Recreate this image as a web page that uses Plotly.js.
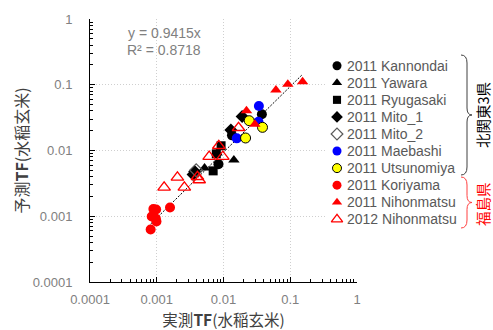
<!DOCTYPE html>
<html>
<head>
<meta charset="utf-8">
<script src="https://cdn.plot.ly/plotly-3.0.1.min.js"></script>
<style>html,body{margin:0;padding:0;background:#fff;}#chart{width:493px;height:330px;}</style>
</head>
<body>
<div id="chart"></div>
<script>
// ---- data ----
const seriesNames = ["2011 Kannondai","2011 Yawara","2011 Ryugasaki","2011 Mito_1","2011 Mito_2","2011 Maebashi","2011 Utsunomiya","2011 Koriyama","2011 Nihonmatsu","2012 Nihonmatsu"];
const kannondaiX = [0.0376, 0.0084, 0.0134];
const kannondaiY = [0.0355, 0.0062, 0.0170];
const yawaraX = [0.0143, 0.0052, 0.0080];
const yawaraY = [0.0072, 0.0054, 0.0092];
const ryugasakiX = [0.0070, 0.0078, 0.0092];
const ryugasakiY = [0.0049, 0.0089, 0.0118];
const mito1X = [0.0129, 0.0190, 0.0035, 0.0037];
const mito1Y = [0.0205, 0.0330, 0.0043, 0.0048];
const mito2X = [0.0039];
const mito2Y = [0.0050];
const maebashiX = [0.0339, 0.0334, 0.0158];
const maebashiY = [0.0475, 0.0274, 0.0153];
const utsunomiyaX = [0.0243, 0.0384, 0.0214];
const utsunomiyaY = [0.0284, 0.0225, 0.0155];
const koriyamaX = [0.00089, 0.00098, 0.00084, 0.00097, 0.00099, 0.00081, 0.00158];
const koriyamaY = [0.00129, 0.00127, 0.00099, 0.00092, 0.00083, 0.00063, 0.00136];
const nihon2011X = [0.061, 0.092, 0.153, 0.0221, 0.0295];
const nihon2011Y = [0.083, 0.102, 0.111, 0.0403, 0.025];
const nihon2012X = [0.00129, 0.00204, 0.00259, 0.00407, 0.00432, 0.0061, 0.0085, 0.00977, 0.0168];
const nihon2012Y = [0.00275, 0.00391, 0.00275, 0.00399, 0.00356, 0.00805, 0.0118, 0.00805, 0.0222];
const trendSlope = 0.9415;
const rSquared = 0.8718;
const tickVals = [0.0001, 0.001, 0.01, 0.1, 1];
const tickLabels = ["0.0001", "0.001", "0.01", "0.1", "1"];
const xTitle = "実測<b>TF</b>(水稲玄米)";
const yTitle = "予測<b>TF</b>(水稲玄米)";
const groupLabels = ["北関東3県", "福島県"];

// ---- layout geometry (pixels) ----
const W = 493, H = 330, ML = 90, MR = 3, MT = 19, MB = 48;
const PLOT_W = 267;                 // width of the main plot area
const PAPER_W = W - ML - MR, PH = H - MT - MB;
const X = px => (px - ML) / PAPER_W;
const Y = py => (H - MB - py) / PH;
// legend box (pixels)
const LG = {left: 327, right: 460, top: 50, bottom: 240, firstRow: 65.7, rowGap: 17.07, markerX: 10, textX: 18};

const styles = [
  {symbol: "circle", color: "#000000", size: 10},
  {symbol: "triangle-up", color: "#000000", size: 10},
  {symbol: "square", color: "#000000", size: 9},
  {symbol: "diamond", color: "#000000", size: 10},
  {symbol: "diamond-open", color: "#595959", size: 10},
  {symbol: "circle", color: "#0000ff", size: 10},
  {symbol: "circle", color: "#ffff00", size: 10, line: {color: "#000000", width: 1}},
  {symbol: "circle", color: "#ff0000", size: 10},
  {symbol: "triangle-up", color: "#ff0000", size: 10},
  {symbol: "triangle-up-open", color: "#ff0000", size: 11, line: {color: "#ff0000", width: 1.3}}
];
const xs = [kannondaiX, yawaraX, ryugasakiX, mito1X, mito2X, maebashiX, utsunomiyaX, koriyamaX, nihon2011X, nihon2012X];
const ys = [kannondaiY, yawaraY, ryugasakiY, mito1Y, mito2Y, maebashiY, utsunomiyaY, koriyamaY, nihon2011Y, nihon2012Y];

const markerOf = (s, scale) => ({
  symbol: s.symbol, color: s.color, size: s.size * scale,
  line: s.line || {color: s.color, width: s.symbol.indexOf("open") >= 0 ? 1.2 : 0}
});

const allX = [].concat(...xs);
const xmin = Math.min(...allX), xmax = Math.max(...allX);
const traces = [{
  x: [xmin, xmax], y: [xmin * trendSlope, xmax * trendSlope],
  mode: "lines", line: {color: "#000000", width: 1, dash: "2px,1.5px"},
  showlegend: false, hoverinfo: "skip", xaxis: "x", yaxis: "y"
}];
seriesNames.forEach((name, i) => {
  traces.push({
    x: xs[i], y: ys[i], name: name, mode: "markers", type: "scatter",
    marker: markerOf(styles[i], 1), showlegend: false, xaxis: "x", yaxis: "y"
  });
});
// legend swatches: one row per series, placed by its index
const legendAnnotations = [];
seriesNames.forEach((name, i) => {
  traces.push({
    x: [LG.markerX], y: [i], mode: "markers", type: "scatter", name: name,
    marker: markerOf(styles[i], 0.9), showlegend: false, hoverinfo: "skip", xaxis: "x2", yaxis: "y2"
  });
  legendAnnotations.push({
    xref: "x2", yref: "y2", x: LG.textX, y: i, text: name, showarrow: false,
    xanchor: "left", yanchor: "middle",
    font: {family: "Liberation Sans, Arial, sans-serif", size: 14, color: "#595959"}
  });
});

function brace(y0, y1, xl, xs_, xt) {
  const ym = (y0 + y1) / 2;
  const p = (a, b) => X(a).toFixed(4) + "," + Y(b).toFixed(4);
  return `M ${p(xl, y0)} Q ${p(xs_, y0)} ${p(xs_, y0 + 8)} L ${p(xs_, ym - 7)} Q ${p(xs_, ym)} ${p(xt, ym)} Q ${p(xs_, ym)} ${p(xs_, ym + 7)} L ${p(xs_, y1 - 8)} Q ${p(xs_, y1)} ${p(xl, y1)}`;
}

const axisCommon = {
  type: "log", range: [-4, 0], tickmode: "array", tickvals: tickVals, ticktext: tickLabels,
  showline: true, linecolor: "#000000", linewidth: 1, mirror: false,
  ticks: "inside", ticklen: 5, tickcolor: "#000000",
  showgrid: true, gridcolor: "#cfcfcf", griddash: "1px,2px", gridwidth: 1,
  zeroline: false,
  minor: {ticks: "inside", ticklen: 3, tickcolor: "#000000", dtick: "D1", showgrid: false},
  tickfont: {family: "Liberation Sans, Arial, sans-serif", size: 13, color: "#808080"},
  automargin: false
};

const rowsTop = (LG.top - LG.firstRow) / LG.rowGap;
const rowsBottom = (LG.bottom - LG.firstRow) / LG.rowGap;

const layout = {
  width: W, height: H,
  margin: {l: ML, r: MR, t: MT, b: MB, pad: 0},
  paper_bgcolor: "#ffffff", plot_bgcolor: "#ffffff",
  font: {family: "Liberation Sans, Arial, sans-serif"},
  xaxis: Object.assign({}, axisCommon, {
    domain: [0, PLOT_W / PAPER_W],
    ticklabelstandoff: 5,
    title: {text: xTitle, standoff: 10, font: {family: "Noto Sans CJK JP, sans-serif", size: 15.5, color: "#404040"}}
  }),
  yaxis: Object.assign({}, axisCommon, {
    ticklabelstandoff: 14,
    title: {text: yTitle, standoff: 0, font: {family: "Noto Sans CJK JP, sans-serif", size: 16, color: "#404040"}}
  }),
  xaxis2: {domain: [X(LG.left), X(LG.right)], range: [0, LG.right - LG.left], visible: false, anchor: "y2", fixedrange: true},
  yaxis2: {domain: [Y(LG.bottom), Y(LG.top)], range: [rowsBottom, rowsTop], visible: false, anchor: "x2", fixedrange: true},
  showlegend: false,
  annotations: legendAnnotations.concat([
    {xref: "paper", yref: "paper", x: X(164), y: Y(33), xanchor: "center", yanchor: "middle", text: "y = " + trendSlope + "x", showarrow: false,
     font: {family: "Liberation Sans, Arial, sans-serif", size: 14, color: "#808080"}},
    {xref: "paper", yref: "paper", x: X(164), y: Y(50), xanchor: "center", yanchor: "middle", text: "R² = " + rSquared, showarrow: false,
     font: {family: "Liberation Sans, Arial, sans-serif", size: 14, color: "#808080"}},
    {xref: "paper", yref: "paper", x: X(482), y: Y(115), xanchor: "center", yanchor: "middle", text: groupLabels[0], textangle: -90, showarrow: false,
     font: {family: "Noto Sans CJK JP, sans-serif", size: 14.5, color: "#000000"}},
    {xref: "paper", yref: "paper", x: X(482), y: Y(204), xanchor: "center", yanchor: "middle", text: groupLabels[1], textangle: -90, showarrow: false,
     font: {family: "Noto Sans CJK JP, sans-serif", size: 14.5, color: "#ff0000"}}
  ]),
  shapes: [
    {type: "path", xref: "paper", yref: "paper", path: brace(55, 175, 461, 467, 472), line: {color: "#404040", width: 1}},
    {type: "path", xref: "paper", yref: "paper", path: brace(177, 228, 461, 467, 472), line: {color: "#ff4040", width: 1}}
  ]
};

Plotly.newPlot("chart", traces, layout, {staticPlot: true, displayModeBar: false});
</script>
</body>
</html>
